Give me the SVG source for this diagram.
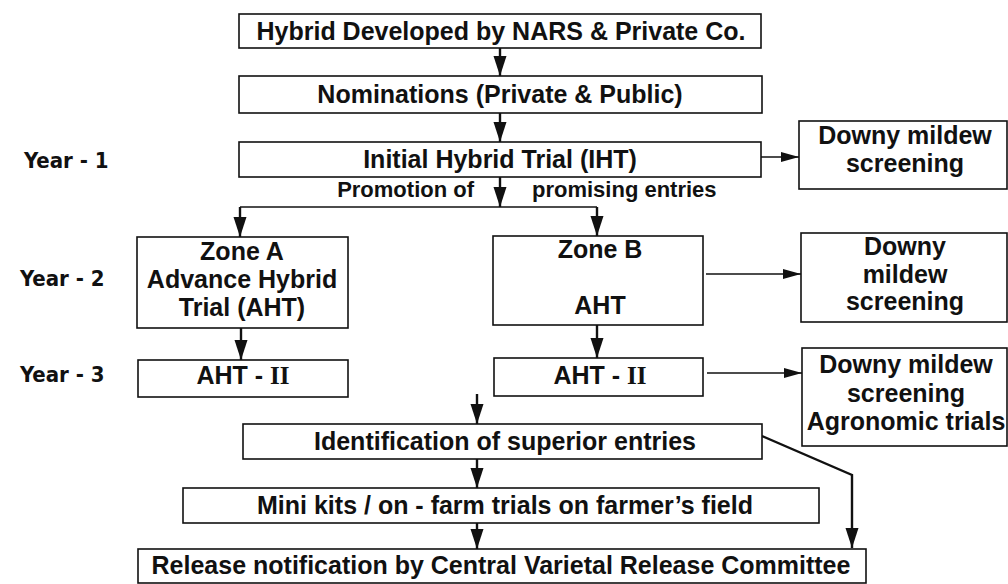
<svg xmlns="http://www.w3.org/2000/svg" width="1008" height="584" viewBox="0 0 1008 584">
<style>
.box{fill:#fff;stroke:#111;stroke-width:1.6}
.t{font-family:"Liberation Sans",Arial,sans-serif;font-weight:bold;font-size:25px;fill:#111;text-anchor:middle}
.s{font-size:22px}
.yr{font-family:"DejaVu Sans Condensed","DejaVu Sans",sans-serif;font-weight:bold;font-size:22px;fill:#111}
.rn{font-family:"Liberation Serif",serif;font-weight:bold}
.v{fill:none;stroke:#111;stroke-width:2.4}
.h{fill:none;stroke:#111;stroke-width:1.6}
</style>
<defs>
<marker id="av" markerUnits="userSpaceOnUse" markerWidth="14" markerHeight="22" refX="7" refY="20" orient="0" viewBox="0 0 14 22">
<path d="M0.5,0 L13.5,0 L7,20 Z" fill="#111"/>
</marker>
<marker id="ah" markerUnits="userSpaceOnUse" markerWidth="20" markerHeight="12" refX="18" refY="6" orient="0" viewBox="0 0 20 12">
<path d="M0,1 L18,6 L0,11 Z" fill="#111"/>
</marker>
</defs>

<g id="year-labels">
<text class="yr" x="24" y="168">Year - 1</text>
<text class="yr" x="20" y="286">Year - 2</text>
<text class="yr" x="20" y="382">Year - 3</text>
</g>

<g id="connectors">
<path class="v" d="M500,48 V76" marker-end="url(#av)"/>
<path class="v" d="M500,113 V142" marker-end="url(#av)"/>
<path class="v" d="M500,177 V207" marker-end="url(#av)"/>
<path class="h" d="M240,207 H597"/>
<path class="v" d="M240,207 V237" marker-end="url(#av)"/>
<path class="v" d="M597,207 V236" marker-end="url(#av)"/>
<path class="v" d="M241,328 V360" marker-end="url(#av)"/>
<path class="v" d="M597,325 V358" marker-end="url(#av)"/>
<path class="h" d="M705,157 H799" marker-end="url(#ah)"/>
<path class="h" d="M706,274 H801" marker-end="url(#ah)"/>
<path class="h" d="M707,373 H802" marker-end="url(#ah)"/>
<path class="v" d="M477,394 V424" marker-end="url(#av)"/>
<path class="v" d="M477,459 V488" marker-end="url(#av)"/>
<path class="v" d="M477,523 V549" marker-end="url(#av)"/>
<path class="v" d="M762,436 L852,475 V548" marker-end="url(#av)"/>
</g>

<g id="n-hybrid">
<rect class="box" x="239" y="14" width="522" height="34"/>
<text class="t" x="501" y="40">Hybrid Developed by NARS &amp; Private Co.</text>
</g>
<g id="n-nominations">
<rect class="box" x="239" y="76" width="523" height="37"/>
<text class="t" x="500" y="103">Nominations (Private &amp; Public)</text>
</g>
<g id="n-iht">
<rect class="box" x="239" y="142" width="522" height="35"/>
<text class="t" x="500" y="168">Initial Hybrid Trial (IHT)</text>
</g>
<g id="n-promotion">
<text class="t s" x="474" y="197" style="text-anchor:end">Promotion of</text>
<text class="t s" x="532" y="197" style="text-anchor:start">promising entries</text>
</g>
<g id="n-dm1">
<rect class="box" x="799" y="121" width="208" height="68"/>
<text class="t" x="905" y="144">Downy mildew</text>
<text class="t" x="905" y="172">screening</text>
</g>
<g id="n-zoneA">
<rect class="box" x="137" y="237" width="211" height="91"/>
<text class="t" x="242" y="260">Zone A</text>
<text class="t" x="242" y="288">Advance Hybrid</text>
<text class="t" x="242" y="316">Trial (AHT)</text>
</g>
<g id="n-zoneB">
<rect class="box" x="493" y="236" width="210" height="89"/>
<text class="t" x="600" y="258">Zone B</text>
<text class="t" x="600" y="314">AHT</text>
</g>
<g id="n-dm2">
<rect class="box" x="801" y="233" width="206" height="89"/>
<text class="t" x="905" y="255">Downy</text>
<text class="t" x="905" y="283">mildew</text>
<text class="t" x="905" y="310">screening</text>
</g>
<g id="n-ahtA">
<rect class="box" x="138" y="360" width="210" height="37"/>
<text class="t" x="243" y="384">AHT - <tspan class="rn">II</tspan></text>
</g>
<g id="n-ahtB">
<rect class="box" x="494" y="358" width="209" height="38"/>
<text class="t" x="600" y="384">AHT - <tspan class="rn">II</tspan></text>
</g>
<g id="n-dm3">
<rect class="box" x="802" y="348" width="205" height="98"/>
<text class="t" x="906" y="373">Downy mildew</text>
<text class="t" x="906" y="402">screening</text>
<text class="t" x="906" y="430">Agronomic trials</text>
</g>
<g id="n-identification">
<rect class="box" x="243" y="424" width="519" height="35"/>
<text class="t" x="505" y="450">Identification of superior entries</text>
</g>
<g id="n-minikits">
<rect class="box" x="183" y="488" width="636" height="35"/>
<text class="t" x="505" y="514">Mini kits / on - farm trials on farmer’s field</text>
</g>
<g id="n-release">
<rect class="box" x="138" y="549" width="728" height="34"/>
<text class="t" x="501" y="574">Release notification by Central Varietal Release Committee</text>
</g>
</svg>
